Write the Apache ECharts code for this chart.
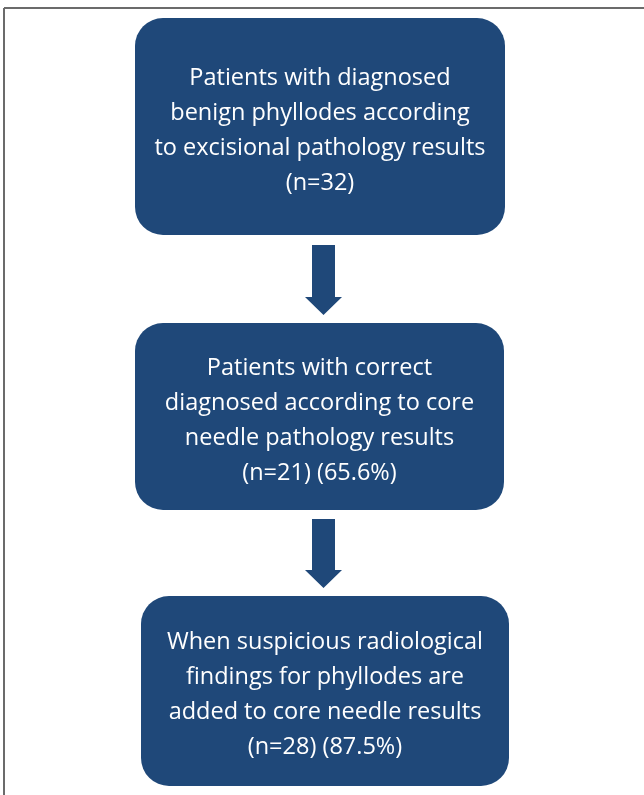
<!DOCTYPE html>
<html>
<head>
<meta charset="utf-8">
<script src="https://cdn.jsdelivr.net/npm/echarts@6/dist/echarts.min.js"></script>
<style>
  html, body { margin: 0; padding: 0; background: #fff; }
  #chart { width: 644px; height: 795px; }
</style>
</head>
<body>
<div id="chart"></div>
<script>
// flow step texts, top to bottom
var step_texts = [
    "Patients with diagnosed\nbenign phyllodes according\nto excisional pathology results\n(n=32)",
    "Patients with correct\ndiagnosed according to core\nneedle pathology results\n(n=21) (65.6%)",
    "When suspicious radiological\nfindings for phyllodes are\nadded to core needle results\n(n=28) (87.5%)"
];
// box extents in page units [x0, y0, x1, y1]
var step_boxes = [
    [135, 18, 505, 235],
    [135, 323, 504, 510],
    [141, 596, 509, 786]
];
// arrows between steps [centerX, top, headStart, tip]
var step_arrows = [
    [323.5, 245, 297, 315],
    [323.5, 519, 570, 588]
];

var box_color = "#1f4879";

var flow = document.getElementById("chart");
var myChart_flow = echarts.init(flow, null, { renderer: "canvas" });

var option_flow = {
    animation: false,
    backgroundColor: "#fff",
    grid: { left: 0, right: 0, top: 0, bottom: 0 },
    xAxis: { type: "value", min: 0, max: 644, show: false },
    yAxis: { type: "value", min: 0, max: 795, inverse: true, show: false },
    graphic: [
        { type: "line", shape: { x1: 4, y1: 8, x2: 644, y2: 8 }, style: { stroke: "#6b6b6b", lineWidth: 2 } },
        { type: "line", shape: { x1: 4, y1: 8, x2: 4, y2: 795 }, style: { stroke: "#6b6b6b", lineWidth: 2 } }
    ],
    series: [
        {
            type: "custom",
            data: step_boxes.map(function (b, i) { return [b[0], b[1], b[2], b[3], i]; }),
            renderItem: function (params, api) {
                var p0 = api.coord([api.value(0), api.value(1)]);
                var p1 = api.coord([api.value(2), api.value(3)]);
                var idx = api.value(4);
                return {
                    type: "group",
                    children: [
                        {
                            type: "rect",
                            shape: { x: p0[0], y: p0[1], width: p1[0] - p0[0], height: p1[1] - p0[1], r: 28 },
                            style: { fill: box_color }
                        },
                        {
                            type: "text",
                            x: (p0[0] + p1[0]) / 2,
                            y: (p0[1] + p1[1]) / 2 + 4,
                            style: {
                                text: step_texts[idx],
                                fill: "#fff",
                                font: "23.5px 'Open Sans'",
                                align: "center",
                                verticalAlign: "middle",
                                lineHeight: 35
                            }
                        }
                    ]
                };
            }
        },
        {
            type: "custom",
            data: step_arrows,
            renderItem: function (params, api) {
                var c = api.coord([api.value(0), api.value(1)]);
                var h = api.coord([api.value(0), api.value(2)]);
                var t = api.coord([api.value(0), api.value(3)]);
                var sw = 11.5, hw = 18.5;
                return {
                    type: "polygon",
                    shape: {
                        points: [
                            [c[0] - sw, c[1]], [c[0] + sw, c[1]],
                            [c[0] + sw, h[1]], [c[0] + hw, h[1]],
                            [t[0], t[1]],
                            [c[0] - hw, h[1]], [c[0] - sw, h[1]]
                        ]
                    },
                    style: { fill: box_color }
                };
            }
        }
    ]
};

myChart_flow.setOption(option_flow);
</script>
</body>
</html>
